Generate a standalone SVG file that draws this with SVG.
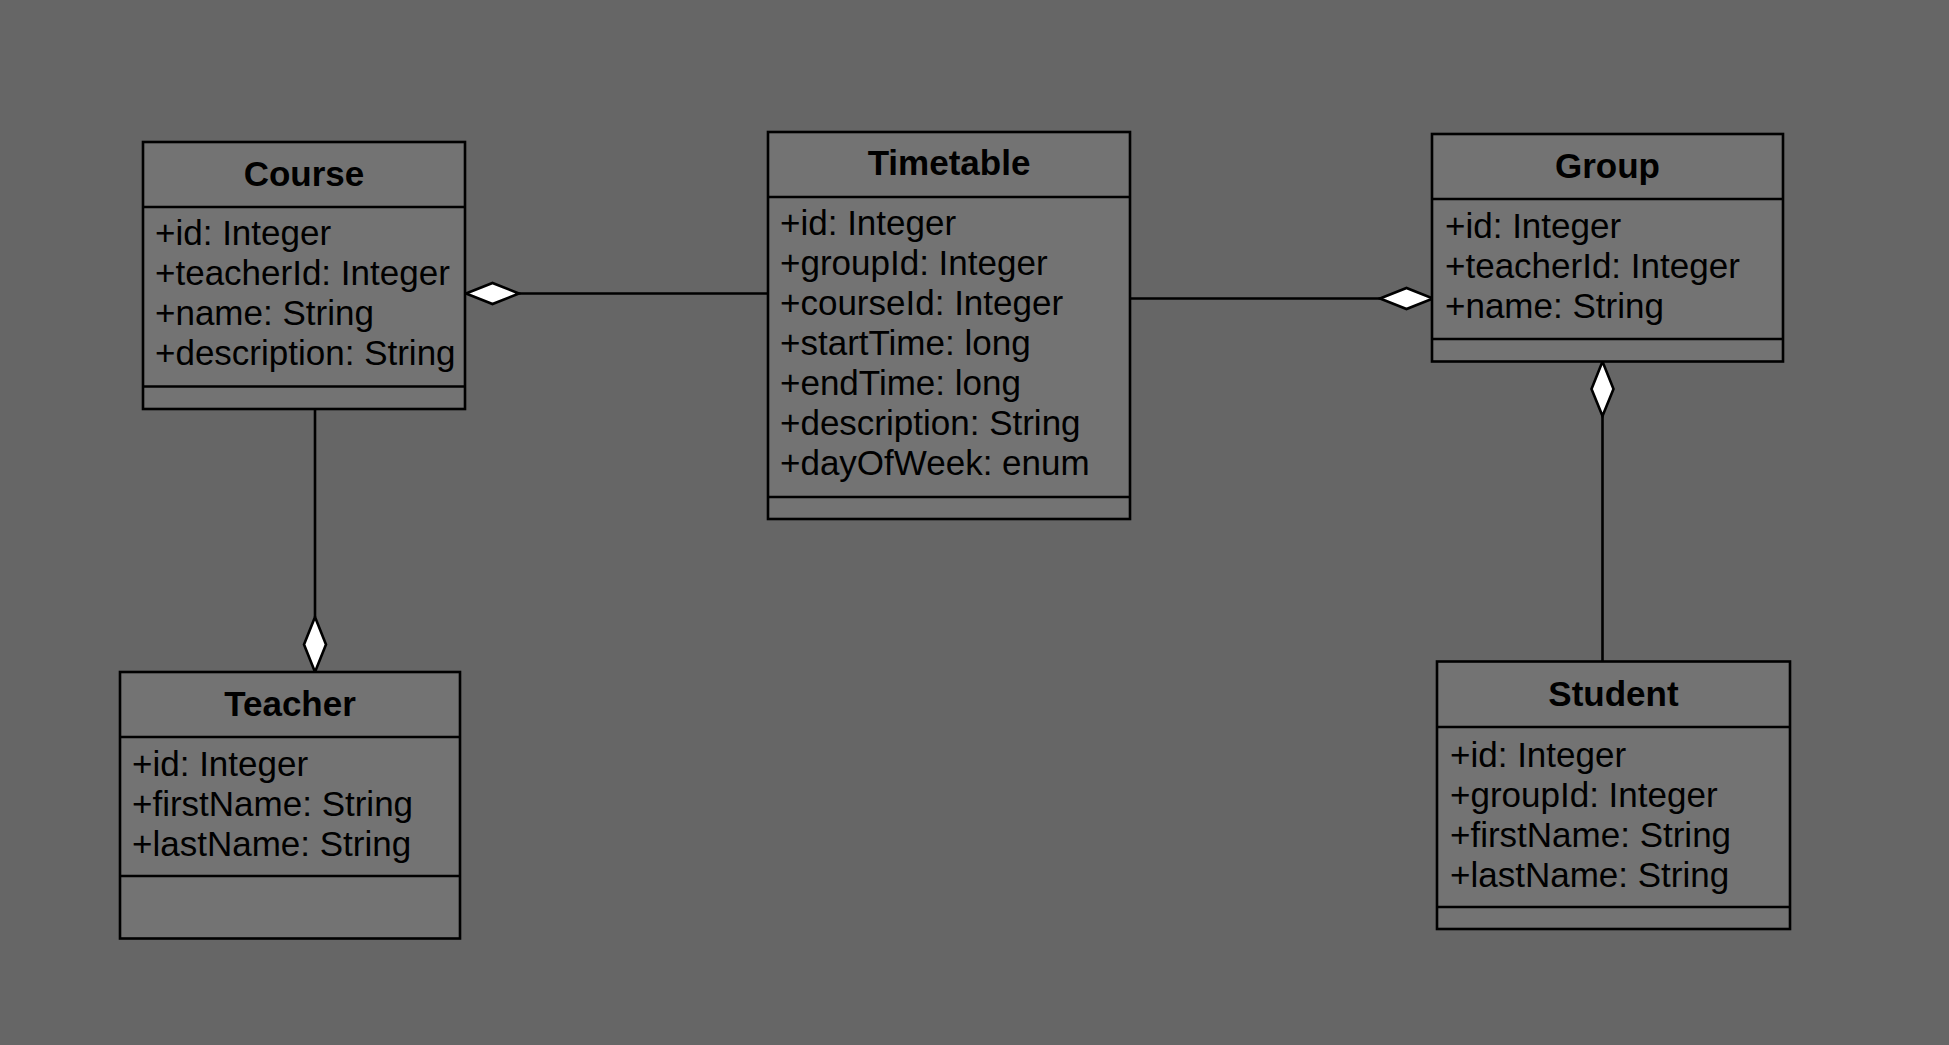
<svg xmlns="http://www.w3.org/2000/svg" width="1949" height="1045" viewBox="0 0 1949 1045">
<style>
.box{fill:#737373;stroke:#000;stroke-width:2.6}
.sep{stroke:#000;stroke-width:2.6}
.t{font-family:"Liberation Sans",Arial,sans-serif;font-size:35px;font-weight:bold;fill:#000;text-anchor:middle}
.a{font-family:"Liberation Sans",Arial,sans-serif;font-size:35px;fill:#000}
.ln{stroke:#000;stroke-width:2.6;fill:none}
.dia{fill:#fff;stroke:#000;stroke-width:2.6;stroke-linejoin:miter}
</style>
<rect x="0" y="0" width="1949" height="1045" fill="#666666"/>
<g id="connectors">
<line class="ln" x1="519" y1="293.5" x2="768" y2="293.5"/>
<polygon class="dia" points="466,293.5 492.5,283 519,293.5 492.5,304"/>
<line class="ln" x1="1130" y1="298.5" x2="1380" y2="298.5"/>
<polygon class="dia" points="1380,298.5 1406.5,288 1433,298.5 1406.5,309"/>
<line class="ln" x1="1602.5" y1="416" x2="1602.5" y2="661.5"/>
<polygon class="dia" points="1602.5,361.5 1613.5,389 1602.5,416 1591.5,389"/>
<line class="ln" x1="315" y1="409" x2="315" y2="617"/>
<polygon class="dia" points="315,617 326,644.5 315,672 304,644.5"/>
</g>
<g id="course">
<rect class="box" x="143" y="142" width="322" height="267"/>
<line class="sep" x1="143" y1="207" x2="465" y2="207"/>
<line class="sep" x1="143" y1="386.5" x2="465" y2="386.5"/>
<text class="t" x="304" y="185.5">Course</text>
<text class="a" x="155" y="244.5">+id: Integer</text>
<text class="a" x="155" y="284.5">+teacherId: Integer</text>
<text class="a" x="155" y="324.5">+name: String</text>
<text class="a" x="155" y="364.5">+description: String</text>
</g>
<g id="timetable">
<rect class="box" x="768" y="132" width="362" height="387"/>
<line class="sep" x1="768" y1="197" x2="1130" y2="197"/>
<line class="sep" x1="768" y1="497" x2="1130" y2="497"/>
<text class="t" x="949" y="175">Timetable</text>
<text class="a" x="780" y="234.5">+id: Integer</text>
<text class="a" x="780" y="274.5">+groupId: Integer</text>
<text class="a" x="780" y="314.5">+courseId: Integer</text>
<text class="a" x="780" y="354.5">+startTime: long</text>
<text class="a" x="780" y="394.5">+endTime: long</text>
<text class="a" x="780" y="434.5">+description: String</text>
<text class="a" x="780" y="474.5">+dayOfWeek: enum</text>
</g>
<g id="group">
<rect class="box" x="1432" y="134" width="351" height="227.5"/>
<line class="sep" x1="1432" y1="199" x2="1783" y2="199"/>
<line class="sep" x1="1432" y1="339" x2="1783" y2="339"/>
<text class="t" x="1607.5" y="177.5">Group</text>
<text class="a" x="1445" y="237.5">+id: Integer</text>
<text class="a" x="1445" y="277.5">+teacherId: Integer</text>
<text class="a" x="1445" y="317.5">+name: String</text>
</g>
<g id="student">
<rect class="box" x="1437" y="661.5" width="353" height="267.5"/>
<line class="sep" x1="1437" y1="727" x2="1790" y2="727"/>
<line class="sep" x1="1437" y1="907" x2="1790" y2="907"/>
<text class="t" x="1613.5" y="705.5">Student</text>
<text class="a" x="1450" y="766.5">+id: Integer</text>
<text class="a" x="1450" y="806.5">+groupId: Integer</text>
<text class="a" x="1450" y="846.5">+firstName: String</text>
<text class="a" x="1450" y="886.5">+lastName: String</text>
</g>
<g id="teacher">
<rect class="box" x="120" y="672" width="340" height="266.5"/>
<line class="sep" x1="120" y1="737" x2="460" y2="737"/>
<line class="sep" x1="120" y1="876" x2="460" y2="876"/>
<text class="t" x="290" y="715.5">Teacher</text>
<text class="a" x="132" y="775.5">+id: Integer</text>
<text class="a" x="132" y="815.5">+firstName: String</text>
<text class="a" x="132" y="855.5">+lastName: String</text>
</g>
</svg>
